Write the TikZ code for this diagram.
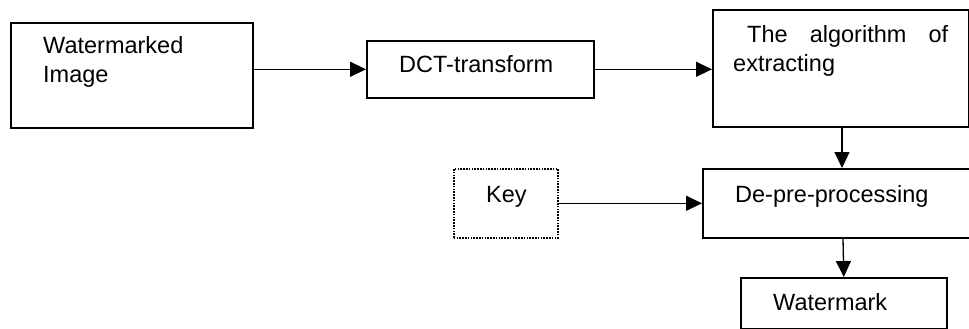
\documentclass[tikz,border=0pt]{standalone}
\usepackage{fontspec}
\setmainfont{Liberation Sans}
\usetikzlibrary{arrows.meta,calc}
\begin{document}
\begin{tikzpicture}[x=1pt,y=-1pt,
  box/.style={draw, line width=1.6pt, rectangle, inner sep=0pt, anchor=north west},
  conn/.style={line width=1.3pt, -{Triangle[length=16pt,width=15pt]}},
  txt/.style={anchor=base west, inner sep=0pt, font=\fontsize{23.5}{28}\selectfont}]
\useasboundingbox (0,0) rectangle (969,329);
\clip (0,0) rectangle (969,329);
% boxes
\node[box, minimum width=242pt, minimum height=105pt] (img) at (10,22) {};
\node[box, minimum width=227pt, minimum height=57pt] (dct) at (366,40) {};
\node[box, minimum width=256pt, minimum height=117pt] (alg) at (712,9) {};
\node[box, dash pattern=on 1.6pt off 1.2pt, minimum width=104pt, minimum height=69pt] (key) at (453,168) {};
\node[box, minimum width=288pt, minimum height=69pt] (depre) at (702,168) {};
\node[box, minimum width=206pt, minimum height=51pt] (wm) at (740,277) {};
% texts
\node[txt] (t1) at (43,54) {Watermarked};
\node[txt] (t2) at (43,82) {Image};
\node[txt] (t3) at (399,73) {DCT-transform};
\node[txt] (t4) at (747,43) {\makebox[201pt][s]{The algorithm of}};
\node[txt] (t5) at (733,71) {extracting};
\node[txt] (t6) at (486,202) {Key};
\node[txt] (t7) at (735,202) {De-pre-processing};
\node[txt] (t8) at (773,310) {Watermark};
% connectors
\draw[conn] (img.east |- dct.west) -- (dct.west);
\draw[conn] (dct.east) -- (dct.east -| alg.west);
\draw[conn] ($(alg.south west)+(130,0)$) -- ($(depre.north west)+(140,0)$);
\draw[conn] (key.east) -- (key.east -| depre.west);
\draw[conn] ($(depre.south west)+(141,0)$) -- (wm.north);
\end{tikzpicture}
\end{document}
